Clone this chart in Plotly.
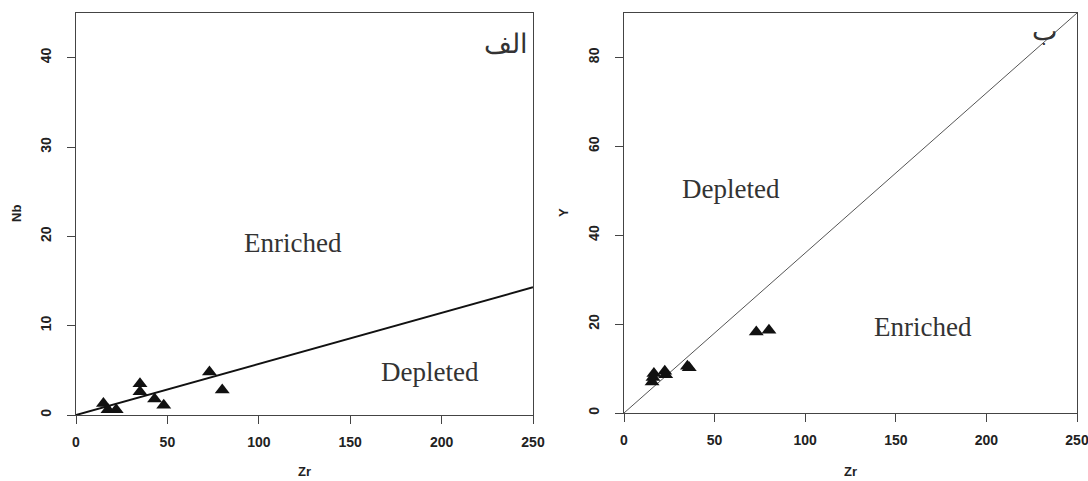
import plotly.graph_objects as go

# Left panel: Nb vs Zr
zr_a = [15, 17.5, 22, 35, 35, 43, 48, 73, 80]
nb_a = [1.3, 0.6, 0.6, 3.5, 2.6, 1.8, 1.1, 4.8, 2.8]
line_a_x = [0, 250]
line_a_y = [0, 14.3]

# Right panel: Y vs Zr
zr_b = [16.5, 15.5, 16, 22.5, 23, 35, 36, 73, 80]
y_b = [8.9, 7.0, 8.0, 9.4, 8.6, 10.5, 10.2, 18.2, 18.6]
line_b_x = [0, 250]
line_b_y = [0, 90]

x_ticks = [0, 50, 100, 150, 200, 250]
y_ticks_a = [0, 10, 20, 30, 40]
y_ticks_b = [0, 20, 40, 60, 80]

W, H = 1088, 481

fig = go.Figure()

fig.add_trace(go.Scatter(x=line_a_x, y=line_a_y, mode="lines",
                         line=dict(color="#111", width=2), xaxis="x", yaxis="y",
                         showlegend=False, hoverinfo="skip"))
fig.add_trace(go.Scatter(x=zr_a, y=nb_a, mode="markers",
                         marker=dict(symbol="triangle-up", size=13, color="#111"),
                         xaxis="x", yaxis="y", showlegend=False))
fig.add_trace(go.Scatter(x=line_b_x, y=line_b_y, mode="lines",
                         line=dict(color="#555", width=1), xaxis="x2", yaxis="y2",
                         showlegend=False, hoverinfo="skip"))
fig.add_trace(go.Scatter(x=zr_b, y=y_b, mode="markers",
                         marker=dict(symbol="triangle-up", size=13, color="#111"),
                         xaxis="x2", yaxis="y2", showlegend=False))

tickfont = dict(family="Liberation Sans, Arial", size=14, color="#222", weight="bold")
common = dict(showline=True, linecolor="#444", linewidth=1, mirror=True,
              ticks="outside", ticklen=8, tickcolor="#444", showgrid=False,
              zeroline=False, tickfont=tickfont, automargin=False,
              ticklabeloverflow="allow")

fig.update_layout(
    width=W, height=H,
    margin=dict(l=0, r=0, t=0, b=0),
    paper_bgcolor="white", plot_bgcolor="white",
    xaxis=dict(domain=[76 / W, 533 / W], range=[0, 250], tickvals=x_ticks,
               anchor="y", ticklabelstandoff=6, **common),
    yaxis=dict(domain=[(H - 415) / H, (H - 13) / H], range=[0, 45], tickvals=y_ticks_a,
               tickangle=-90, ticklabelstandoff=10, anchor="x", **common),
    xaxis2=dict(domain=[624 / W, 1077 / W], range=[0, 250], tickvals=x_ticks,
                anchor="y2", ticklabelstandoff=6, **common),
    yaxis2=dict(domain=[(H - 413) / H, (H - 13) / H], range=[0, 90], tickvals=y_ticks_b,
                tickangle=-90, ticklabelstandoff=10, anchor="x2", **common),
)

serif = dict(family="Liberation Serif, Times New Roman", size=27, color="#333")
ann = [
    dict(x=118.7, y=19.2, xref="x", yref="y", text="Enriched", showarrow=False, font=serif),
    dict(x=193.6, y=4.8, xref="x", yref="y", text="Depleted", showarrow=False, font=serif),
    dict(x=235, y=41.5, xref="x", yref="y", text="الف", showarrow=False, font=serif),
    dict(x=59.3, y=50.5, xref="x2", yref="y2", text="Depleted", showarrow=False, font=serif),
    dict(x=164.8, y=19.3, xref="x2", yref="y2", text="Enriched", showarrow=False, font=serif),
    dict(x=232, y=86, xref="x2", yref="y2", text="ب", showarrow=False, font=serif),
]
labfont = dict(family="Liberation Sans, Arial", size=13, color="#222", weight="bold")
ann += [
    dict(x=16 / W, y=(H - 214) / H, xref="paper", yref="paper", text="Nb",
         showarrow=False, textangle=-90, font=labfont, xanchor="center", yanchor="middle"),
    dict(x=304 / W, y=(H - 471) / H, xref="paper", yref="paper", text="Zr",
         showarrow=False, font=labfont, xanchor="center", yanchor="middle"),
    dict(x=564 / W, y=(H - 213) / H, xref="paper", yref="paper", text="Y",
         showarrow=False, textangle=-90, font=labfont, xanchor="center", yanchor="middle"),
    dict(x=850 / W, y=(H - 471) / H, xref="paper", yref="paper", text="Zr",
         showarrow=False, font=labfont, xanchor="center", yanchor="middle"),
]
fig.update_layout(annotations=ann)

fig.write_html("out.html")
